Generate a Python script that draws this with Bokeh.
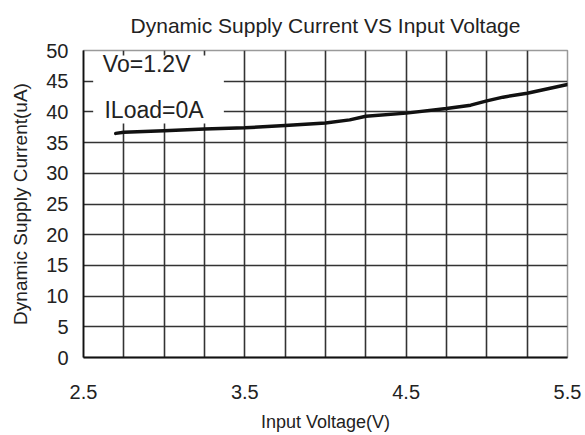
from bokeh.plotting import figure
from bokeh.models import FixedTicker, Range1d, Label, BoxAnnotation
from bokeh.embed import file_html
from bokeh.resources import INLINE

# ---- data ----
voltage = [2.7, 2.75, 3.0, 3.25, 3.5, 3.75, 4.0, 4.15, 4.25, 4.5, 4.75, 4.9, 5.0, 5.1, 5.25, 5.5]
current = [36.5, 36.7, 36.95, 37.2, 37.4, 37.8, 38.2, 38.7, 39.3, 39.8, 40.55, 41.1, 41.8, 42.4, 43.05, 44.45]

x_label_ticks = [2.5, 3.5, 4.5, 5.5]
x_grid_ticks = [2.5, 2.75, 3.0, 3.25, 3.5, 3.75, 4.0, 4.25, 4.5, 4.75, 5.0, 5.25, 5.5]
y_ticks = [0, 5, 10, 15, 20, 25, 30, 35, 40, 45, 50]

title_text = "Dynamic Supply Current VS Input Voltage"
x_title = "Input Voltage(V)"
y_title = "Dynamic Supply Current(uA)"
note_lines = ["Vo=1.2V", "ILoad=0A"]

FONT = "Liberation Sans"

p = figure(width=585, height=435, output_backend="svg", toolbar_location=None,
           x_range=Range1d(2.5, 5.5), y_range=Range1d(0, 50),
           min_border_left=83, min_border_right=18, min_border_top=50, min_border_bottom=78,
           title=title_text)

p.background_fill_color = "white"
p.border_fill_color = "white"
p.outline_line_color = "#9a9a9a"
p.outline_line_width = 1.5

p.title.text_font = FONT
p.title.text_font_size = "21px"
p.title.text_font_style = "normal"
p.title.text_color = "#222222"
p.title.align = "center"
p.title.vertical_align = "top"
p.title.standoff = 23

# axes
p.xaxis.ticker = FixedTicker(ticks=x_label_ticks)
p.yaxis.ticker = FixedTicker(ticks=y_ticks)
p.xgrid.ticker = FixedTicker(ticks=x_grid_ticks)
p.ygrid.ticker = FixedTicker(ticks=y_ticks)
p.xaxis.major_label_overrides = {t: str(t) for t in x_label_ticks}

for ax in (p.xaxis, p.yaxis):
    ax.axis_line_color = "#111111"
    ax.axis_line_width = 1.8
    ax.major_tick_line_color = None
    ax.minor_tick_line_color = None
    ax.major_tick_out = 0
    ax.major_tick_in = 0
    ax.major_label_text_font = FONT
    ax.major_label_text_font_size = "20px"
    ax.major_label_text_color = "#222222"
    ax.axis_label_text_font = FONT
    ax.axis_label_text_font_size = "18px"
    ax.axis_label_text_font_style = "normal"
    ax.axis_label_text_color = "#222222"

p.yaxis.axis_label_text_font_size = "19px"
p.xaxis.axis_label = x_title
p.yaxis.axis_label = y_title
p.xaxis.major_label_standoff = 27
p.yaxis.major_label_standoff = 15
p.xaxis.axis_label_standoff = 10
p.yaxis.axis_label_standoff = 12

p.xgrid.grid_line_color = "#333333"
p.ygrid.grid_line_color = "#333333"
p.xgrid.grid_line_width = 1.6
p.ygrid.grid_line_width = 1.6

# white panel behind the condition notes (hides grid there)
p.add_layout(BoxAnnotation(left=2.56, right=3.37, bottom=38.1, top=49.2,
                           fill_color="white", fill_alpha=1.0, line_color=None))

p.add_layout(Label(x=2.62, y=47.8, text=note_lines[0], text_font=FONT,
                   text_font_size="23px", text_color="#222222", text_baseline="alphabetic"))
p.add_layout(Label(x=2.63, y=40.3, text=note_lines[1], text_font=FONT,
                   text_font_size="23px", text_color="#222222", text_baseline="alphabetic"))

p.line(voltage, current, line_color="#111111", line_width=3.5, line_join="round", line_cap="round")

open("out.html", "w").write(file_html(p, INLINE))
